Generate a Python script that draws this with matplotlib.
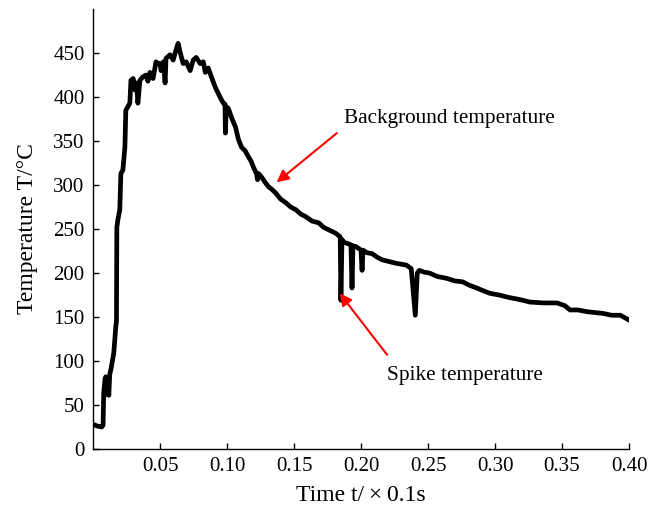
import matplotlib
matplotlib.use("Agg")
import matplotlib.pyplot as plt

time = [0.000, 0.0035, 0.0065, 0.0075, 0.0080, 0.0090, 0.0095, 0.0105, 0.0110, 0.0118,
        0.0125, 0.0133, 0.0155, 0.0170, 0.0175, 0.0178, 0.0185, 0.0200, 0.0208, 0.0223,
        0.0238, 0.0245, 0.0260, 0.0275, 0.0283, 0.0300, 0.0313, 0.0325, 0.0335, 0.0350,
        0.0373, 0.0395, 0.0410, 0.0425, 0.0448, 0.0470, 0.0485, 0.0500, 0.0508, 0.0525,
        0.0538, 0.0545, 0.0575, 0.0598, 0.0613, 0.0635, 0.0650, 0.0673, 0.0695, 0.0725,
        0.0748, 0.0770, 0.0800, 0.0823, 0.0838, 0.0860, 0.0883, 0.0913, 0.0935, 0.0958,
        0.0973, 0.0985, 0.0988, 0.0995, 0.1010, 0.1033, 0.1063, 0.1085, 0.1108, 0.1135,
        0.1160, 0.1180, 0.1198, 0.1220, 0.1228, 0.1235, 0.1258, 0.1285, 0.1310, 0.1335,
        0.1363, 0.1400, 0.1438, 0.1475, 0.1513, 0.1550, 0.1588, 0.1635, 0.1685, 0.1720,
        0.1760, 0.1813, 0.1845, 0.1850, 0.1858, 0.1873, 0.1925, 0.1933, 0.1940, 0.1963,
        0.2000, 0.2008, 0.2015, 0.2045, 0.2083, 0.2120, 0.2158, 0.2210, 0.2263, 0.2300,
        0.2338, 0.2375, 0.2405, 0.2420, 0.2435, 0.2470, 0.2510, 0.2570, 0.2638, 0.2700,
        0.2758, 0.2810, 0.2863, 0.2910, 0.2960, 0.3030, 0.3110, 0.3180, 0.3260, 0.3360,
        0.3463, 0.3520, 0.3560, 0.3620, 0.3688, 0.3750, 0.3808, 0.3870, 0.3935, 0.3995]
temperature = [28, 26, 25, 27, 64, 80, 82, 62, 78, 61,
               85, 90, 109, 139, 145, 252, 260, 272, 313, 317,
               343, 385, 389, 393, 419, 421, 408, 416, 393, 419,
               423, 425, 418, 428, 421, 440, 438, 438, 430, 440,
               416, 444, 448, 442, 450, 461, 451, 438, 440, 430,
               442, 445, 438, 440, 428, 433, 423, 411, 404, 397,
               393, 392, 359, 389, 387, 377, 366, 352, 343, 339,
               332, 327, 320, 313, 306, 313, 309, 303, 298, 295,
               291, 284, 280, 275, 272, 267, 264, 259, 257, 252,
               249, 245, 241, 169, 238, 235, 232, 183, 231, 230,
               226, 203, 226, 223, 222, 218, 215, 213, 211, 210,
               209, 205, 152, 200, 203, 201, 200, 196, 194, 191,
               190, 186, 183, 180, 177, 175, 172, 170, 167, 166,
               166, 163, 158, 158, 156, 155, 154, 152, 152, 147]

xticks = [0.05, 0.10, 0.15, 0.20, 0.25, 0.30, 0.35, 0.40]
xticklabels = ["0.05", "0.10", "0.15", "0.20", "0.25", "0.30", "0.35", "0.40"]
yticks = [0, 50, 100, 150, 200, 250, 300, 350, 400, 450]

plt.rcParams['font.family'] = ['Liberation Serif', 'DejaVu Serif']

fig = plt.figure(figsize=(6.61, 5.07), dpi=100)
ax = fig.add_axes([0.1407, 0.1144, 0.8109, 0.8678])
ax.plot(time, temperature, color='black', lw=3.4, solid_joinstyle='round')

ax.set_xlim(0, 0.40)
ax.set_ylim(0, 500)
ax.set_xticks(xticks)
ax.set_xticklabels(xticklabels)
ax.set_yticks(yticks)
ax.tick_params(direction='in', length=4, width=1, labelsize=15, pad=6)
for s in ['top', 'right']:
    ax.spines[s].set_visible(False)
for s in ['left', 'bottom']:
    ax.spines[s].set_linewidth(1.0)

ax.set_xlabel('Time t/\u2009\u00d7\u20090.1s', fontsize=17, labelpad=6)
ax.set_ylabel('Temperature T/\u00b0C', fontsize=17, labelpad=11)

arrow = dict(arrowstyle='-|>', color='red', lw=1.5, mutation_scale=18,
             shrinkA=0, shrinkB=0)
ax.annotate('', xy=(0.137, 303), xytext=(0.182, 359), arrowprops=arrow)
ax.annotate('', xy=(0.184, 177), xytext=(0.2195, 107), arrowprops=arrow)
ax.text(0.187, 376, 'Background temperature', fontsize=15.3, va='center', ha='left')
ax.text(0.2195, 84, 'Spike temperature', fontsize=15.3, va='center', ha='left')

fig.savefig('out.png', dpi=100)
